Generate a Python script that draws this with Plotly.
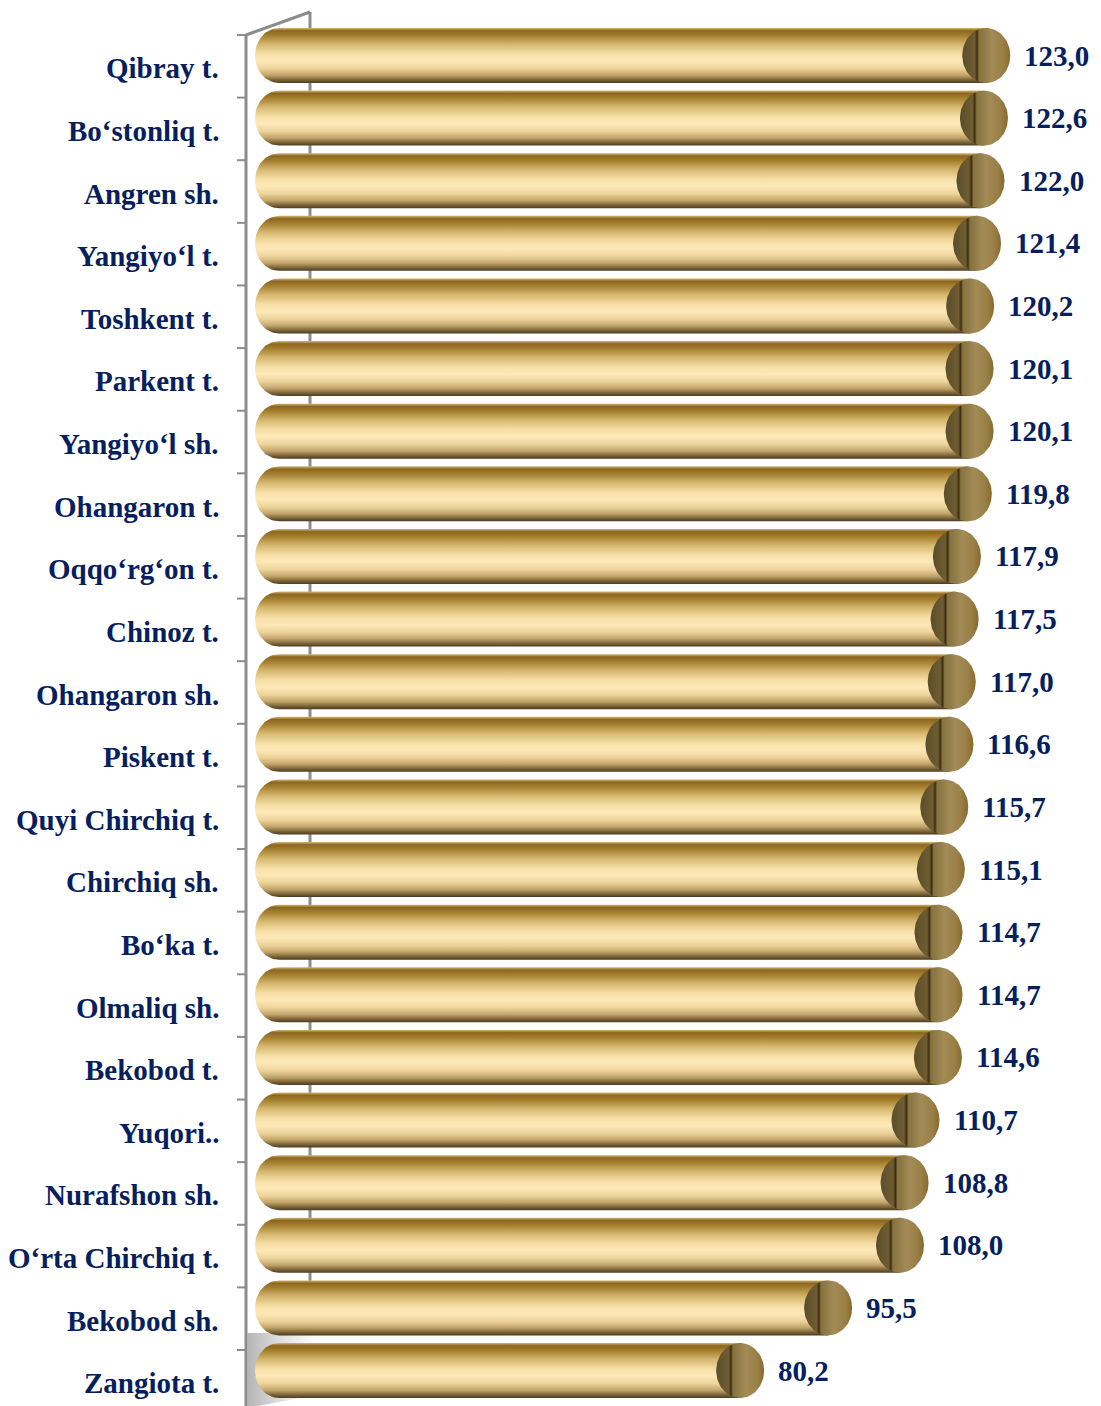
import numpy as np
import plotly.graph_objects as go

categories = ["Qibray t.", "Bo‘stonliq t.", "Angren sh.", "Yangiyo‘l t.", "Toshkent t.",
              "Parkent t.", "Yangiyo‘l sh.", "Ohangaron t.", "Oqqo‘rg‘on t.", "Chinoz t.",
              "Ohangaron sh.", "Piskent t.", "Quyi Chirchiq t.", "Chirchiq sh.", "Bo‘ka t.",
              "Olmaliq sh.", "Bekobod t.", "Yuqori..", "Nurafshon sh.", "O‘rta Chirchiq t.",
              "Bekobod sh.", "Zangiota t."]
values = [123.0, 122.6, 122.0, 121.4, 120.2, 120.1, 120.1, 119.8, 117.9, 117.5, 117.0,
          116.6, 115.7, 115.1, 114.7, 114.7, 114.6, 110.7, 108.8, 108.0, 95.5, 80.2]

W, H = 1101, 1406
X0PX, XSCALE = 279.0, 5.75       # pixel of value 0, pixels per unit
Y0PX, YSTEP = 66.3, 62.62        # pixel of first category center, pixels per category

def xd(px):
    return (px - X0PX) / XSCALE

def yd(py):
    return (py - Y0PX) / YSTEP

RX = 24 / XSCALE
RY = 27.5 / YSTEP
DY = -10.8 / YSTEP
NAVY = "#06205e"
FONT = "Liberation Serif"
GRAY = "#8c8c8c"

body_scale = [[0.0, "#d4b772"], [0.05, "#8c6620"], [0.14, "#a5802f"], [0.30, "#d6b870"],
              [0.48, "#f7e0a8"], [0.60, "#fde9b8"], [0.74, "#ecd39a"], [0.86, "#c2a46a"],
              [0.94, "#7e663a"], [1.0, "#4a3c20"]]
cap_scale = [[0.0, "#5c4d2b"], [0.26, "#6f5d31"], [0.31, "#3c2e10"], [0.35, "#85723f"],
             [0.62, "#a28b57"], [0.85, "#9a7f46"], [1.0, "#876a2c"]]

fig = go.Figure()

# floor shading at bottom-left
fx = [xd(247), xd(312), xd(312), xd(247)]
fy = [yd(1333), yd(1333), yd(1396), yd(1408)]
fig.add_trace(go.Scatter(x=fx, y=fy, fill="toself", mode="lines", line=dict(width=0),
                         fillgradient=dict(type="horizontal",
                                           colorscale=[[0, "#b4b4b4"], [0.5, "#dedede"],
                                                       [1, "#fbfbfb"]]),
                         hoverinfo="skip", showlegend=False))

th_left = np.linspace(np.pi / 2, 3 * np.pi / 2, 40)
th_full = np.linspace(0, 2 * np.pi, 80)

for i, v in enumerate(values):
    yc = i + DY
    bx = list(RX * np.cos(th_left)) + [v, v]
    by = list(yc - RY * np.sin(th_left)) + [yc + RY, yc - RY]
    fig.add_trace(go.Scatter(x=bx, y=by, fill="toself", mode="lines", line=dict(width=0),
                             fillgradient=dict(type="vertical", colorscale=body_scale,
                                               start=yc - RY, stop=yc + RY),
                             hoverinfo="skip", showlegend=False))
    cx = v + RX * np.cos(th_full)
    cy = yc - RY * np.sin(th_full)
    fig.add_trace(go.Scatter(x=cx, y=cy, fill="toself", mode="lines", line=dict(width=0),
                             fillgradient=dict(type="horizontal", colorscale=cap_scale,
                                               start=v - RX, stop=v + RX),
                             hoverinfo="skip", showlegend=False))
    fig.add_annotation(x=v + RX + 12 / XSCALE, y=yc, xref="x", yref="y",
                       text=f"{v:.1f}".replace(".", ","), showarrow=False,
                       xanchor="left", yanchor="middle",
                       font=dict(family=FONT, size=29, color=NAVY, weight="bold"))
    fig.add_annotation(x=221 / W, y=i + 2 / YSTEP, xref="paper", yref="y",
                       text=categories[i], showarrow=False,
                       xanchor="right", yanchor="middle",
                       font=dict(family=FONT, size=29, color=NAVY, weight="bold"))

# 3D frame lines
shapes = []
shapes.append(dict(type="line", xref="paper", yref="paper", x0=246 / W, x1=246 / W,
                   y0=1 - 35 / H, y1=0, line=dict(color=GRAY, width=3), layer="below"))
shapes.append(dict(type="line", xref="paper", yref="paper", x0=246 / W, x1=310 / W,
                   y0=1 - 35 / H, y1=1 - 12 / H, line=dict(color=GRAY, width=3), layer="below"))
shapes.append(dict(type="line", xref="paper", yref="paper", x0=310 / W, x1=310 / W,
                   y0=1 - 12 / H, y1=1 - 1342 / H, line=dict(color=GRAY, width=3), layer="below"))
for k in range(len(categories) + 1):
    shapes.append(dict(type="line", xref="paper", yref="y", x0=237 / W, x1=246 / W,
                       y0=k - 0.5, y1=k - 0.5, line=dict(color=GRAY, width=2), layer="below"))

fig.update_layout(
    width=W, height=H,
    margin=dict(l=0, r=0, t=0, b=0),
    paper_bgcolor="white", plot_bgcolor="white",
    shapes=shapes,
    xaxis=dict(range=[xd(0), xd(W)], visible=False, fixedrange=True),
    yaxis=dict(range=[yd(H), yd(0)], visible=False, fixedrange=True),
    showlegend=False,
)

fig.write_html("out.html", config={"displayModeBar": False},
               post_script="document.body.style.margin='0';document.body.style.overflow='hidden';")
